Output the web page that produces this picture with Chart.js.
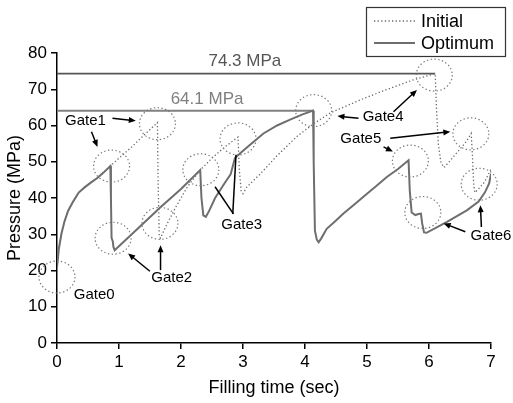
<!DOCTYPE html>
<html>
<head>
<meta charset="utf-8">
<script src="https://cdn.jsdelivr.net/npm/chart.js@4.4.0/dist/chart.umd.min.js"></script>
<style>
  html, body { margin: 0; padding: 0; background: #fff; }
</style>
</head>
<body>
<canvas id="chart" width="513" height="403"></canvas>
<script>
// Pressure traces: time in sec, pressure in MPa
const optimumTime = [0, 0.03, 0.07, 0.12, 0.18, 0.26, 0.35, 0.45, 0.55, 0.65, 0.75, 0.86,
  0.87, 0.88, 0.90, 0.91, 0.93, 1.30, 1.66, 2.00, 2.31,
  2.33, 2.36, 2.40, 2.45, 2.55, 2.70, 2.80, 2.87, 2.95,
  3.10, 3.33, 3.55, 3.76, 3.95, 4.13,
  4.14, 4.16, 4.19, 4.22, 4.26, 4.35, 4.50, 4.62, 4.80, 5.00,
  5.15, 5.32, 5.50, 5.67,
  5.69, 5.72, 5.78, 5.83, 5.87, 5.89, 5.92, 5.96,
  6.29, 6.61, 6.80, 6.90, 6.97, 7.00];
const optimumPressure = [21, 26, 30, 33.5, 36.5, 39, 41.5, 43, 44.3, 45.5, 47, 48.8,
  40, 29, 28, 26.5, 25.6, 31.5, 37.3, 42.5, 47.7,
  40, 35.2, 34.8, 36.3, 40, 44, 46.5, 51, 52.3,
  54.5, 57.8, 60, 61.6, 63, 64.1,
  50, 31, 28.5, 27.8, 28.8, 31.5, 33.8, 35.7, 38.3, 41.2,
  43.3, 45.8, 48, 50.4,
  42, 36, 35.3, 35.6, 35.7, 33, 30.5, 30.4,
  33.4, 36.6, 39, 41.5, 44, 46.7];

const initialTime = [0, 0.03, 0.07, 0.12, 0.18, 0.26, 0.35, 0.45, 0.55, 0.65, 0.75, 0.86,
  1.00, 1.20, 1.40, 1.62,
  1.63, 1.65, 1.67, 1.75, 1.90, 2.10, 2.30, 2.50, 2.70, 2.92,
  2.94, 2.97, 3.00, 3.06, 3.27, 3.54, 3.87, 4.14, 4.41, 4.94,
  5.30, 5.75, 6.10,
  6.12, 6.15, 6.19, 6.24, 6.30, 6.45, 6.60, 6.68,
  6.70, 6.72, 6.74, 6.80, 6.90, 7.00];
const initialPressure = [21, 26, 30, 33.5, 36.5, 39, 41.5, 43, 44.3, 45.5, 47, 48.8,
  51, 54, 57.3, 60.8,
  45, 29.3, 28.9, 32, 37, 43, 47.5, 51, 54, 56.8,
  48, 42, 41.2, 43, 46.5, 51.5, 57, 60.5, 63.5, 67.4,
  69.8, 72.6, 74.3,
  65, 55, 50, 48.4, 49.5, 52.5, 55.5, 57.8,
  52, 44, 41.5, 42.5, 44.5, 48];

// peak pressure markers
const peakLabels = ['74.3 MPa', '64.1 MPa'];
const peakValues = [74.3, 64.1];
const peakEndTime = [6.10, 4.13];
const peakLabelTime = [3.03, 2.42];
const peakLabelPressure = [77.8, 67.3];

const xTicks = [0, 1, 2, 3, 4, 5, 6, 7];
const yTicks = [0, 10, 20, 30, 40, 50, 60, 70, 80];

// gate annotations (data units)
const gateLabelText = ['Gate0', 'Gate1', 'Gate2', 'Gate3', 'Gate4', 'Gate5', 'Gate6'];
const gateLabelTime = [0.60, 0.46, 1.85, 2.98, 5.26, 4.90, 7.00];
const gateLabelPressure = [13.2, 61.3, 18.0, 32.7, 62.3, 56.2, 29.6];

const gateCircleTime = [0.0, 0.88, 1.62, 0.905, 1.66, 2.32, 2.92, 4.14, 6.085, 5.70, 6.675, 5.90, 6.81];
const gateCirclePressure = [18.2, 48.8, 60.5, 28.9, 33.0, 47.8, 56.3, 64.1, 73.9, 50.2, 57.7, 36.0, 43.8];

// [from t, from p, to t, to p, arrowhead]
const gateArrows = [
  [0.556, 58.3, 0.653, 54.1, 1],
  [0.895, 62.0, 1.271, 61.3, 1],
  [1.498, 19.8, 1.147, 24.7, 1],
  [1.670, 20.1, 1.670, 27.0, 1],
  [2.845, 35.6, 2.549, 43.1, 0],
  [2.835, 35.6, 2.887, 51.9, 0],
  [4.863, 62.0, 4.523, 62.6, 1],
  [5.428, 63.8, 5.806, 69.8, 1],
  [5.375, 56.5, 6.344, 58.3, 1],
  [5.267, 54.1, 5.418, 52.8, 1],
  [6.586, 30.7, 6.236, 33.0, 1],
  [6.845, 32.0, 6.829, 38.0, 1]
];

const FONT = "'Liberation Sans', Arial, Helvetica, sans-serif";

function toPoints(xs, ys) {
  return xs.map((v, i) => ({ x: v, y: ys[i] }));
}

const annotate = {
  id: 'annotate',
  afterDatasetsDraw(chart) {
    const { ctx } = chart;
    const x = chart.scales.x, y = chart.scales.y;
    ctx.save();

    // dotted circles round the gates
    ctx.strokeStyle = '#7a7a7a';
    ctx.lineWidth = 1.2;
    ctx.setLineDash([1.4, 2.4]);
    gateCircleTime.forEach((t, i) => {
      ctx.beginPath();
      ctx.ellipse(x.getPixelForValue(t), y.getPixelForValue(gateCirclePressure[i]), 18, 16, 0, 0, Math.PI * 2);
      ctx.stroke();
    });
    ctx.setLineDash([]);

    // arrows
    ctx.strokeStyle = '#000';
    ctx.fillStyle = '#000';
    ctx.lineWidth = 1.5;
    gateArrows.forEach(a => {
      const x1 = x.getPixelForValue(a[0]), y1 = y.getPixelForValue(a[1]);
      const x2 = x.getPixelForValue(a[2]), y2 = y.getPixelForValue(a[3]);
      const ang = Math.atan2(y2 - y1, x2 - x1);
      const len = 7, hw = 3;
      const cut = a[4] ? len * 0.8 : 0;
      ctx.beginPath();
      ctx.moveTo(x1, y1);
      ctx.lineTo(x2 - Math.cos(ang) * cut, y2 - Math.sin(ang) * cut);
      ctx.stroke();
      if (!a[4]) return;
      ctx.beginPath();
      ctx.moveTo(x2, y2);
      ctx.lineTo(x2 - Math.cos(ang) * len - Math.sin(ang) * hw, y2 - Math.sin(ang) * len + Math.cos(ang) * hw);
      ctx.lineTo(x2 - Math.cos(ang) * len + Math.sin(ang) * hw, y2 - Math.sin(ang) * len - Math.cos(ang) * hw);
      ctx.closePath();
      ctx.fill();
    });

    // gate labels
    ctx.font = '15px ' + FONT;
    ctx.textAlign = 'center';
    ctx.textBaseline = 'middle';
    ctx.fillStyle = '#000';
    gateLabelText.forEach((s, i) => {
      ctx.fillText(s, x.getPixelForValue(gateLabelTime[i]), y.getPixelForValue(gateLabelPressure[i]));
    });

    // peak labels
    ctx.font = '17px ' + FONT;
    const peakColors = ['#555555', '#808080'];
    peakLabels.forEach((s, i) => {
      ctx.fillStyle = peakColors[i];
      ctx.fillText(s, x.getPixelForValue(peakLabelTime[i]), y.getPixelForValue(peakLabelPressure[i]));
    });

    // legend box
    const ds = chart.data.datasets;
    ctx.fillStyle = '#fff';
    ctx.fillRect(366.5, 7.5, 139, 49);
    ctx.strokeStyle = '#333';
    ctx.lineWidth = 1.2;
    ctx.strokeRect(366.5, 7.5, 139, 49);
    const rows = [ds[1], ds[0]];
    rows.forEach((d, i) => {
      const yy = 21 + i * 22;
      ctx.strokeStyle = d.borderColor;
      ctx.lineWidth = d.borderWidth;
      ctx.setLineDash(d.borderDash || []);
      ctx.beginPath();
      ctx.moveTo(374, yy);
      ctx.lineTo(415, yy);
      ctx.stroke();
      ctx.setLineDash([]);
      ctx.fillStyle = '#000';
      ctx.font = '18px ' + FONT;
      ctx.textAlign = 'left';
      ctx.fillText(d.label, 421, yy + 1);
    });
    ctx.restore();
  }
};

new Chart(document.getElementById('chart'), {
  type: 'line',
  data: {
    datasets: [
      {
        label: 'Optimum',
        data: toPoints(optimumTime, optimumPressure),
        borderColor: '#6e6e6e',
        borderWidth: 2,
        pointRadius: 0,
        tension: 0,
        order: 0
      },
      {
        label: 'Initial',
        data: toPoints(initialTime, initialPressure),
        borderColor: '#6a6a6a',
        borderWidth: 1.3,
        borderDash: [1.3, 2.3],
        pointRadius: 0,
        tension: 0,
        order: 1
      },
      {
        label: 'peak1',
        data: [{ x: 0, y: peakValues[0] }, { x: peakEndTime[0], y: peakValues[0] }],
        borderColor: '#555555',
        borderWidth: 1.6,
        pointRadius: 0,
        order: 2
      },
      {
        label: 'peak2',
        data: [{ x: 0, y: peakValues[1] }, { x: peakEndTime[1], y: peakValues[1] }],
        borderColor: '#808080',
        borderWidth: 2,
        pointRadius: 0,
        order: 2
      }
    ]
  },
  options: {
    responsive: false,
    animation: false,
    devicePixelRatio: 1,
    layout: { padding: { top: 53, right: 22, left: 0, bottom: 0 } },
    plugins: {
      legend: { display: false },
      tooltip: { enabled: false }
    },
    scales: {
      x: {
        type: 'linear',
        min: 0,
        max: 7,
        afterBuildTicks: s => { s.ticks = xTicks.map(v => ({ value: v })); },
        afterFit: s => { s.height = 60; },
        grid: { drawOnChartArea: false, drawTicks: true, tickLength: 6, color: '#000', lineWidth: 1.5 },
        border: { display: true, color: '#000', width: 1.5 },
        ticks: { color: '#000', font: { family: FONT, size: 17 }, padding: 3, maxRotation: 0 },
        title: { display: true, text: 'Filling time (sec)', color: '#000', font: { family: FONT, size: 18 }, padding: { top: 4, bottom: 4 } }
      },
      y: {
        type: 'linear',
        min: 0,
        max: 80,
        afterBuildTicks: s => { s.ticks = yTicks.map(v => ({ value: v })); },
        afterFit: s => { s.width = 57; },
        grid: { drawOnChartArea: false, drawTicks: true, tickLength: 6, color: '#000', lineWidth: 1.5 },
        border: { display: true, color: '#000', width: 1.5 },
        ticks: { color: '#000', font: { family: FONT, size: 17 }, padding: 4 },
        title: { display: true, text: 'Pressure (MPa)', color: '#000', font: { family: FONT, size: 18 }, padding: { top: 4, bottom: 4 } }
      }
    }
  },
  plugins: [annotate]
});
</script>
</body>
</html>
